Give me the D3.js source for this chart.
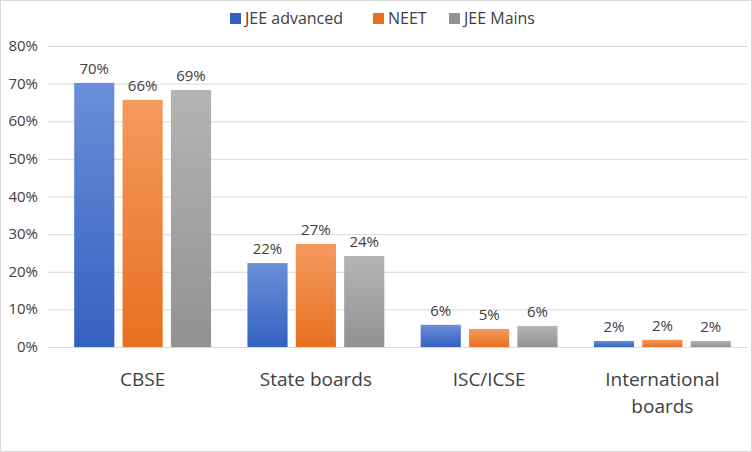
<!DOCTYPE html><html><head><meta charset="utf-8">
<script src="https://cdn.jsdelivr.net/npm/d3@7"></script>
<style>body{margin:0;background:#fff}text{font-family:"Open Sans",sans-serif;fill:#404040}</style></head><body>
<svg id="c" width="752" height="452"></svg>
<script>
const categories=["CBSE","State boards","ISC/ICSE","International boards"];
const seriesNames=["JEE advanced","NEET","JEE Mains"];
const jeeAdvanced=[0.702,0.223,0.059,0.016];
const neet=[0.657,0.274,0.048,0.019];
const jeeMains=[0.683,0.242,0.056,0.016];
const labels=[["70%","22%","6%","2%"],["66%","27%","5%","2%"],["69%","24%","6%","2%"]];
const yTicks=[0,0.1,0.2,0.3,0.4,0.5,0.6,0.7,0.8];
const series=[jeeAdvanced,neet,jeeMains];
const colors=[["#6a8fd8","#3461c1"],["#f49a5e","#e8701f"],["#b4b4b4","#929292"]];
const svg=d3.select("#c");
svg.append("rect").attr("x",0.5).attr("y",0.5).attr("width",751).attr("height",451).attr("fill","#fff").attr("stroke","#d9d9d9");
const defs=svg.append("defs");
colors.forEach((c,i)=>{const g=defs.append("linearGradient").attr("id","g"+i).attr("x1",0).attr("x2",0).attr("y1",0).attr("y2",1);
g.append("stop").attr("offset","0").attr("stop-color",c[0]);g.append("stop").attr("offset","1").attr("stop-color",c[1]);});
const x=d3.scaleBand().domain(categories).range([56,749]).paddingInner(0.21).paddingOuter(0.105);
const xs=d3.scaleBand().domain([0,1,2]).range([0,x.bandwidth()]).paddingInner(0.17);
const y=d3.scaleLinear().domain([0,0.8]).range([347,46]);
svg.append("g").selectAll("line").data(yTicks).join("line").attr("x1",48).attr("x2",748).attr("y1",d=>y(d)+0.5).attr("y2",d=>y(d)+0.5).attr("stroke","#d9d9d9");
svg.append("g").selectAll("text").data(yTicks).join("text").attr("x",38).attr("y",d=>y(d)+5).attr("text-anchor","end").attr("font-size",15).text(d=>d3.format(".0%")(d));
series.forEach((s,i)=>{
 const g=svg.append("g");
 g.selectAll("rect").data(s).join("rect").attr("x",(d,j)=>x(categories[j])+xs(i)).attr("width",xs.bandwidth()).attr("y",d=>y(d)).attr("height",d=>y(0)-y(d)).attr("fill","url(#g"+i+")");
 g.selectAll("text").data(s).join("text").attr("x",(d,j)=>x(categories[j])+xs(i)+xs.bandwidth()/2).attr("y",d=>y(d)-9).attr("text-anchor","middle").attr("font-size",15).text((d,j)=>labels[i][j]);
});
const cl=svg.append("g");
categories.forEach(c=>{const t=cl.append("text").attr("x",x(c)+x.bandwidth()/2).attr("y",386).attr("text-anchor","middle").attr("font-size",19);
 if(c==="International boards"){t.append("tspan").attr("x",x(c)+x.bandwidth()/2).text("International");t.append("tspan").attr("x",x(c)+x.bandwidth()/2).attr("dy",27).text("boards");}else t.text(c);});
const lx=[230,373,449];
seriesNames.forEach((n,i)=>{svg.append("rect").attr("x",lx[i]).attr("y",13).attr("width",11).attr("height",11).attr("fill",colors[i][1]);
 svg.append("text").attr("x",lx[i]+15).attr("y",24).attr("font-size",16).text(n);});
</script></body></html>
